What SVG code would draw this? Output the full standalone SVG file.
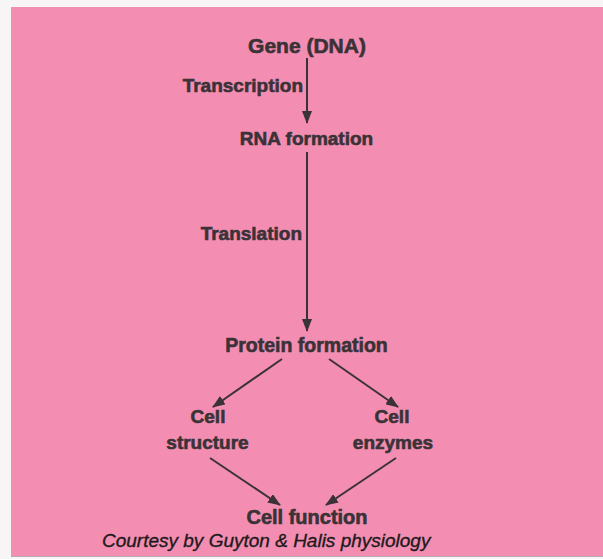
<svg xmlns="http://www.w3.org/2000/svg" width="603" height="559" viewBox="0 0 603 559">
  <defs>
    <marker id="ah" markerUnits="userSpaceOnUse" markerWidth="13" markerHeight="10" refX="12" refY="5" orient="auto">
      <path d="M0,0 L13,5 L0,10 Z" fill="#3a3236"/>
    </marker>
    <style>
      .n { font-family: "Liberation Sans", Arial, sans-serif; font-weight: bold; fill: #3a3236; stroke: #3a3236; stroke-width: 0.6; text-anchor: middle; }
      .lbl { font-family: "Liberation Sans", Arial, sans-serif; font-weight: bold; fill: #3a3236; stroke: #3a3236; stroke-width: 0.6; text-anchor: end; font-size: 19px; }
      .c { stroke: #3a3236; stroke-width: 2; fill: none; marker-end: url(#ah); }
      .cap { font-family: "Liberation Sans", Arial, sans-serif; font-style: italic; font-size: 19px; fill: #1e1a1c; stroke: #1e1a1c; stroke-width: 0.35; }
    </style>
  </defs>
  <rect x="0" y="0" width="603" height="559" fill="#f7f5f5"/>
  <rect x="11" y="7" width="592" height="549" fill="#f38eb2"/>
  <line x1="11" y1="556.5" x2="603" y2="556.5" stroke="#b9a9ae" stroke-width="1"/>

  <g id="connectors">
    <line class="c" x1="307" y1="58" x2="307" y2="123"/>
    <line class="c" x1="307" y1="152" x2="307" y2="331"/>
    <line class="c" x1="282" y1="359" x2="213" y2="407"/>
    <line class="c" x1="329" y1="359" x2="398" y2="407"/>
    <line class="c" x1="210" y1="458" x2="280" y2="505"/>
    <line class="c" x1="396" y1="458" x2="326" y2="505"/>
  </g>

  <g id="gene"><text class="n" x="307" y="53" font-size="21">Gene (DNA)</text></g>
  <g id="transcription-label"><text class="lbl" x="303" y="92">Transcription</text></g>
  <g id="rna"><text class="n" x="306.5" y="145" font-size="19">RNA formation</text></g>
  <g id="translation-label"><text class="lbl" x="302" y="240">Translation</text></g>
  <g id="protein"><text class="n" x="306.5" y="352" font-size="19.5">Protein formation</text></g>
  <g id="cell-structure">
    <text class="n" x="208" y="423" font-size="19">Cell</text>
    <text class="n" x="207.5" y="449" font-size="19">structure</text>
  </g>
  <g id="cell-enzymes">
    <text class="n" x="392" y="423" font-size="19">Cell</text>
    <text class="n" x="393" y="449" font-size="19">enzymes</text>
  </g>
  <g id="cell-function"><text class="n" x="307" y="524" font-size="20">Cell function</text></g>
  <g id="caption"><text class="cap" x="102" y="547">Courtesy by Guyton &amp; Halis physiology</text></g>
</svg>
